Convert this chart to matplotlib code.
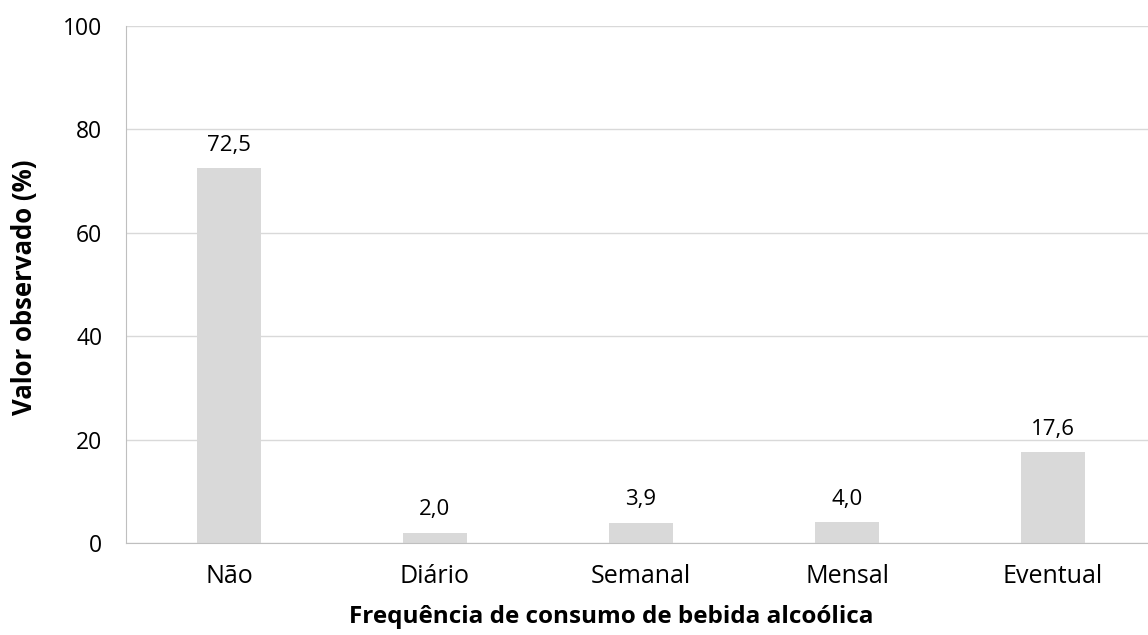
import matplotlib
matplotlib.use("Agg")
import matplotlib.pyplot as plt

categories = ["Não", "Diário", "Semanal", "Mensal", "Eventual"]
values = [72.5, 2.0, 3.9, 4.0, 17.6]
labels = ["72,5", "2,0", "3,9", "4,0", "17,6"]
yticks = [0, 20, 40, 60, 80, 100]

plt.rcParams['font.family'] = ['Open Sans', 'DejaVu Sans']

W, H = 1148, 635
fig = plt.figure(figsize=(W / 100, H / 100), dpi=100)
x0, x1 = 126, 1156
ytop, ybot = 26, 543
ax = fig.add_axes([x0 / W, 1 - ybot / H, (x1 - x0) / W, (ybot - ytop) / H])

pos = list(range(len(categories)))
ax.bar(pos, values, width=0.315, color="#D9D9D9", zorder=2)
for p, v, l in zip(pos, values, labels):
    ax.annotate(l, (p, v), xytext=(0, 9), textcoords="offset points",
                ha="center", va="bottom", fontsize=16, color="#000000")

ax.set_xlim(-0.5, len(categories) - 0.5)
ax.set_ylim(0, 100)
ax.set_yticks(yticks)
ax.set_yticklabels([str(t) for t in yticks], fontsize=16.5)
ax.set_xticks(pos)
ax.set_xticklabels(categories, fontsize=18)
ax.tick_params(axis="both", length=0)
ax.tick_params(axis="x", pad=15)
ax.tick_params(axis="y", pad=17)
ax.grid(axis="y", color="#D9D9D9", linewidth=1, zorder=0)
for s in ["top", "right"]:
    ax.spines[s].set_visible(False)
ax.spines["left"].set_color("#BFBFBF")
ax.spines["bottom"].set_color("#BFBFBF")

fig.text(611 / W, 1 - 617 / H, "Frequência de consumo de bebida alcoólica",
         fontsize=17.5, fontweight="bold", ha="center", va="center")
fig.text(25 / W, 1 - 287 / H, "Valor observado (%)", fontsize=18.5,
         fontweight="bold", ha="center", va="center", rotation=90)

fig.savefig("out.png", dpi=100)
